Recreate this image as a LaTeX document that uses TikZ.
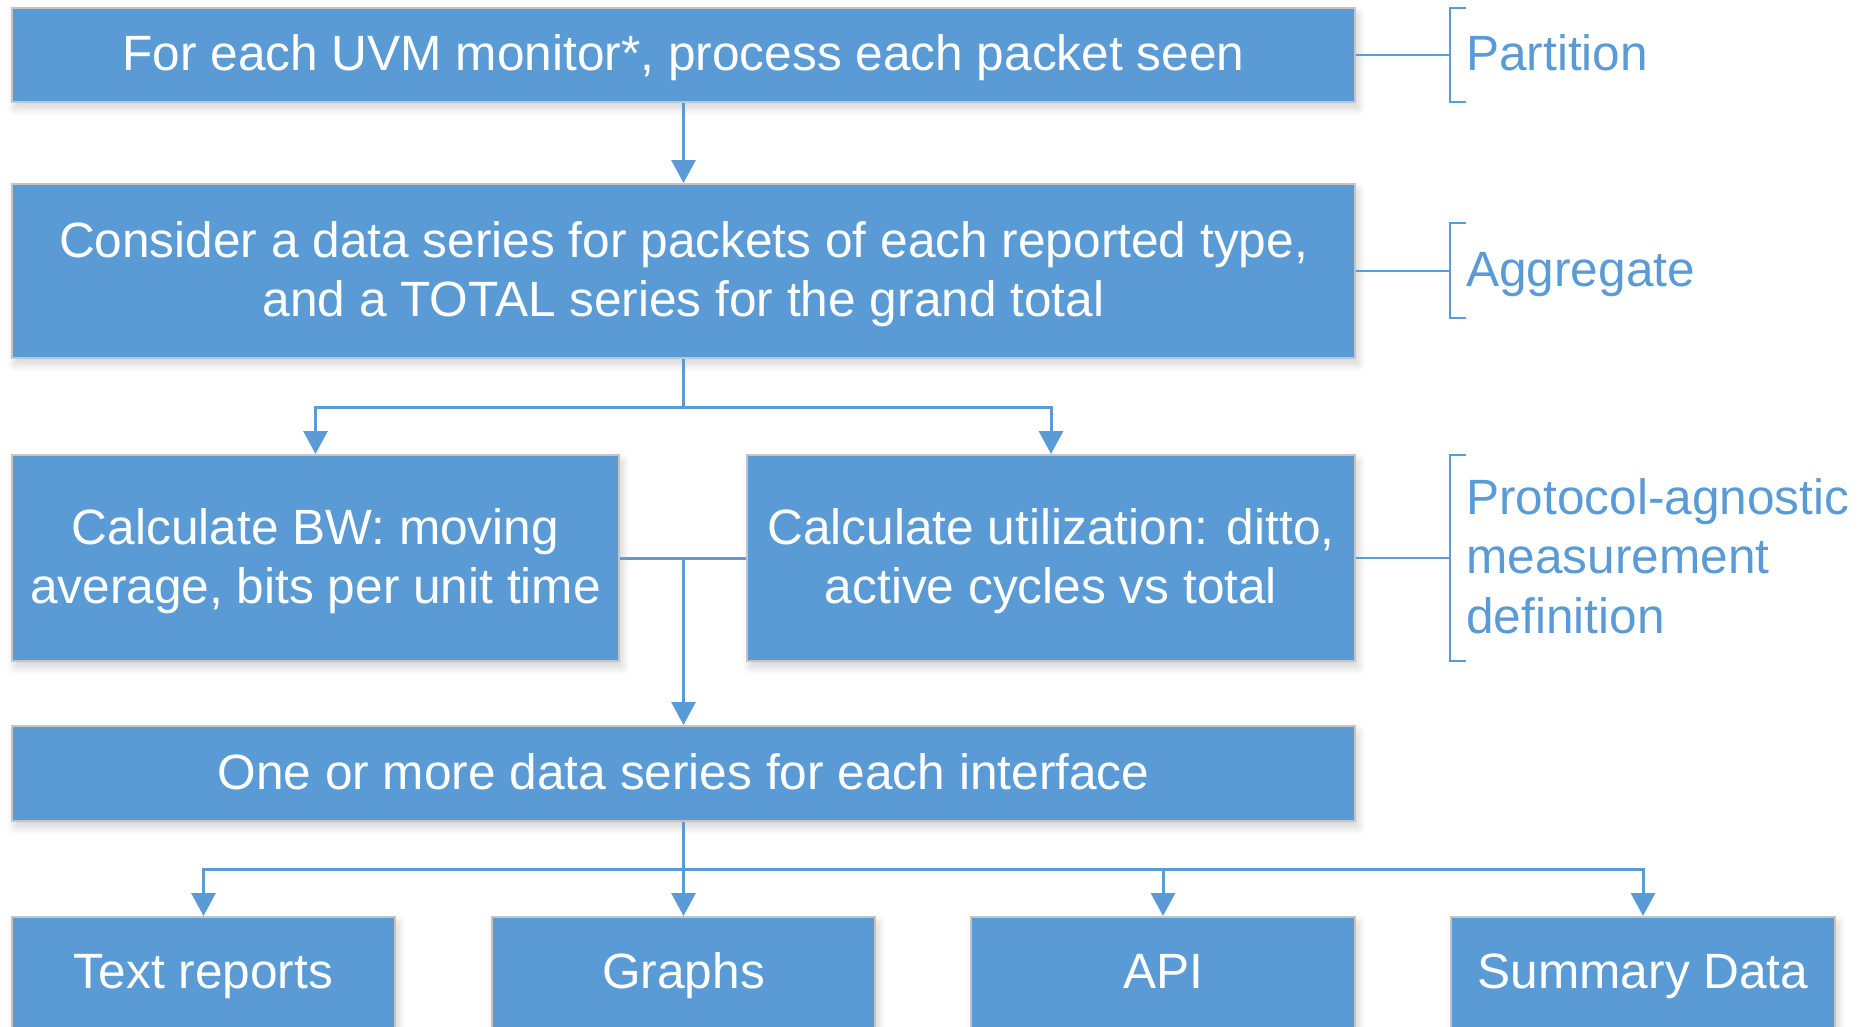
\documentclass[tikz,border=0pt]{standalone}
\usepackage{fontspec}
\setmainfont{Liberation Sans}
\usetikzlibrary{arrows.meta,shadows.blur}
\definecolor{boxblue}{HTML}{5B9BD5}
\definecolor{boxrim}{HTML}{C4C4C4}
\tikzset{
  stepbox/.style={draw=boxrim, line width=2pt, fill=boxblue, text=white,
    inner sep=0pt, align=center, anchor=center,
    font=\fontsize{49.6}{59}\selectfont, text height=42.5pt, text depth=11.3pt,
    blur shadow={shadow xshift=3pt, shadow yshift=-6pt, shadow blur radius=8pt,
      shadow opacity=18, shadow blur steps=10}},
  twolines/.style={text height=101.5pt},
  flow/.style={draw=boxblue, line width=3pt},
  flowarrow/.style={flow, -{Triangle[length=23pt,width=24pt]}},
  brace/.style={draw=boxblue, line width=2pt},
  tag/.style={text=boxblue, anchor=west, align=left, inner sep=0pt,
    font=\fontsize{49.6}{59.5}\selectfont, text height=42.5pt, text depth=11.3pt}
}
\begin{document}
\begin{tikzpicture}[x=1pt, y=-1pt]
\useasboundingbox (0,0) rectangle (1860,1026);

% main stages
\node[stepbox, minimum width=1343pt, minimum height=94pt] (part) at (683.5,55)
  {For each UVM monitor*, process each packet seen};
\node[stepbox, twolines, minimum width=1343pt, minimum height=174pt] (aggr) at (683.5,271)
  {Consider a data series for packets of each reported type,\\and a TOTAL series for the grand total};
\node[stepbox, twolines, minimum width=607pt, minimum height=206pt] (bw) at (315.5,558)
  {Calculate BW: moving\\average, bits per unit time};
\node[stepbox, twolines, minimum width=608pt, minimum height=206pt] (util) at (1051,558)
  {Calculate utilization: ditto,\\active cycles vs total};
\node[stepbox, minimum width=1343pt, minimum height=95pt] (series) at (683.5,773.5)
  {One or more data series for each interface};

% outputs
\node[stepbox, minimum width=383pt, minimum height=112pt] (txt) at (203.5,973) {Text reports};
\node[stepbox, minimum width=383pt, minimum height=112pt] (graphs) at (683.5,973) {Graphs};
\node[stepbox, minimum width=384pt, minimum height=112pt] (api) at (1163,973) {API};
\node[stepbox, minimum width=384pt, minimum height=112pt] (summ) at (1643,973) {Summary Data};

% junction points
\coordinate (split1) at (683.5,407);
\coordinate (merge) at (683.5,558);
\coordinate (split2) at (683.5,869);

% connectors
\draw[flowarrow] (part.south) -- (aggr.north);
\draw[flow] (aggr.south) -- (split1);
\draw[flowarrow] (split1) -| (bw.north);
\draw[flowarrow] (split1) -| (util.north);
\draw[flow] (bw.east) -- (util.west);
\draw[flowarrow] (merge) -- (series.north);
\draw[flow] (series.south) -- (split2);
\draw[flowarrow] (split2) -| (txt.north);
\draw[flowarrow] (split2) -- (graphs.north);
\draw[flowarrow] (split2) -| (api.north);
\draw[flowarrow] (split2) -| (summ.north);

% side annotations
\coordinate (pb) at (1450,55);
\draw[brace] (part.east) -- (pb);
\draw[brace] (1466,8) -- (1450,8) -- (1450,102) -- (1466,102);
\node[tag] (lpart) at (1466,55) {Partition};

\coordinate (ab) at (1450,271);
\draw[brace] (aggr.east) -- (ab);
\draw[brace] (1466,223) -- (1450,223) -- (1450,318) -- (1466,318);
\node[tag] (laggr) at (1466,271) {Aggregate};

\coordinate (mb) at (1450,558);
\draw[brace] (util.east) -- (mb);
\draw[brace] (1466,455) -- (1450,455) -- (1450,661) -- (1466,661);
\node[tag, text height=161.5pt] (lmeas) at (1466,558) {Protocol-agnostic\\measurement\\definition};
\end{tikzpicture}
\end{document}
